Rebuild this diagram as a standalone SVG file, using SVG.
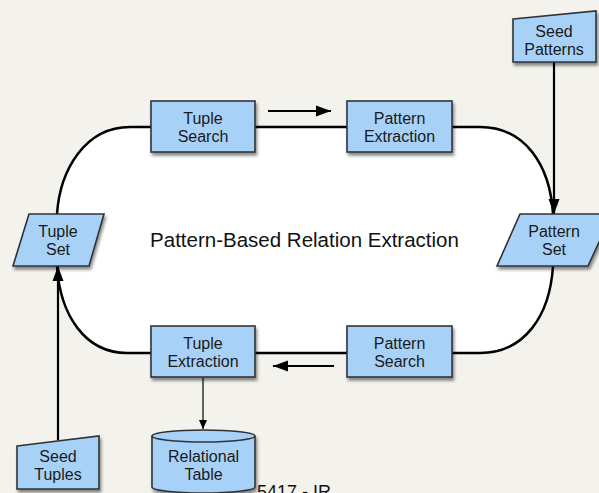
<svg xmlns="http://www.w3.org/2000/svg" width="599" height="493" viewBox="0 0 599 493">
  <style>
    .node { fill: #a8d1f8; stroke: #2f3338; stroke-width: 1.6; filter: url(#shadow); }
    .label { font-family: "Liberation Sans", Arial, sans-serif; font-size: 16px; fill: #1a1a1a; text-anchor: middle; }
    .loop { fill: none; stroke: #000; stroke-width: 2.5; }
    .flow { fill: none; stroke: #000; stroke-width: 2.2; }
    .thin { fill: none; stroke: #000; stroke-width: 1.2; }
    .title { font-family: "Liberation Sans", Arial, sans-serif; font-size: 20.5px; fill: #111; }
    .footer { font-family: "Liberation Sans", Arial, sans-serif; font-size: 18px; fill: #111; }
  </style>
  <defs>
    <filter id="shadow" x="-20%" y="-20%" width="150%" height="160%">
      <feDropShadow dx="1.5" dy="3" stdDeviation="1.6" flood-color="#000" flood-opacity="0.45"/>
    </filter>
    <marker id="head" markerUnits="userSpaceOnUse" markerWidth="16" markerHeight="12" refX="15" refY="6" orient="auto">
      <path d="M0,0.5 L15,6 L0,11.5 Z" fill="#000"/>
    </marker>
    <marker id="headSmall" markerUnits="userSpaceOnUse" markerWidth="10" markerHeight="10" refX="9" refY="5" orient="auto">
      <path d="M0,1 L9,5 L0,9 Z" fill="#000"/>
    </marker>
  </defs>

  <!-- page background -->
  <rect x="0" y="0" width="599" height="493" fill="#f3f2ec"/>

  <!-- central loop area -->
  <path d="M130,127 H480 C525,127 550,165 553,214 L553,266 C550,315 525,353 480,353 H127 C85,353 60,315 57,266 L57,214 C60,170 85,127 130,127 Z" fill="#ffffff"/>

  <g id="connectors">
    <!-- processing loop -->
    <path class="loop" d="M57,214 C60,170 85,127 130,127 H480 C525,127 550,165 553,214"/>
    <path class="loop" d="M553,266 C550,315 525,353 480,353 H127 C85,353 60,315 57,266"/>
    <!-- direction hints -->
    <line class="flow" x1="268" y1="111" x2="331" y2="111" marker-end="url(#head)"/>
    <line class="flow" x1="334" y1="366" x2="273" y2="366" marker-end="url(#head)"/>
    <!-- seeds -->
    <line class="flow" x1="554" y1="62" x2="554" y2="214" marker-end="url(#head)"/>
    <line class="flow" x1="58" y1="440" x2="58" y2="266" marker-end="url(#head)"/>
    <!-- output -->
    <line class="thin" x1="203" y1="378" x2="203" y2="429" marker-end="url(#headSmall)"/>
  </g>

  <text class="title" x="304.5" y="247" text-anchor="middle">Pattern-Based Relation Extraction</text>

  <g id="tuple-search">
    <rect class="node" x="151" y="101" width="104" height="51"/>
    <text class="label" x="203" y="124">Tuple</text>
    <text class="label" x="203" y="142">Search</text>
  </g>

  <g id="pattern-extraction">
    <rect class="node" x="347" y="101" width="105" height="51"/>
    <text class="label" x="399.5" y="124">Pattern</text>
    <text class="label" x="399.5" y="142">Extraction</text>
  </g>

  <g id="tuple-extraction">
    <rect class="node" x="151" y="326" width="104" height="51"/>
    <text class="label" x="203" y="349">Tuple</text>
    <text class="label" x="203" y="367">Extraction</text>
  </g>

  <g id="pattern-search">
    <rect class="node" x="347" y="326" width="105" height="51"/>
    <text class="label" x="399.5" y="349">Pattern</text>
    <text class="label" x="399.5" y="367">Search</text>
  </g>

  <g id="tuple-set">
    <polygon class="node" points="29,214 104,214 89,266 13,266"/>
    <text class="label" x="58" y="237">Tuple</text>
    <text class="label" x="58" y="255">Set</text>
  </g>

  <g id="pattern-set">
    <polygon class="node" points="520,214 612,214 588,266 497,266"/>
    <text class="label" x="554" y="237">Pattern</text>
    <text class="label" x="554" y="255">Set</text>
  </g>

  <g id="seed-patterns">
    <polygon class="node" points="513,19 596,11 596,62 513,62"/>
    <text class="label" x="554" y="37">Seed</text>
    <text class="label" x="554" y="55">Patterns</text>
  </g>

  <g id="seed-tuples">
    <polygon class="node" points="17,446 99,436 99,489 17,489"/>
    <text class="label" x="58" y="462">Seed</text>
    <text class="label" x="58" y="480">Tuples</text>
  </g>

  <!-- footer text, partly behind the table -->
  <text class="footer" x="257" y="498">5417 - IR</text>

  <g id="relational-table">
    <path class="node" d="M152,436 A51.5,6 0 0 1 255,436 V487 A51.5,6 0 0 1 152,487 Z"/>
    <path d="M152,436 A51.5,6 0 0 0 255,436" fill="none" stroke="#2f3338" stroke-width="1.6"/>
    <text class="label" x="203.5" y="462">Relational</text>
    <text class="label" x="203.5" y="480">Table</text>
  </g>
</svg>
